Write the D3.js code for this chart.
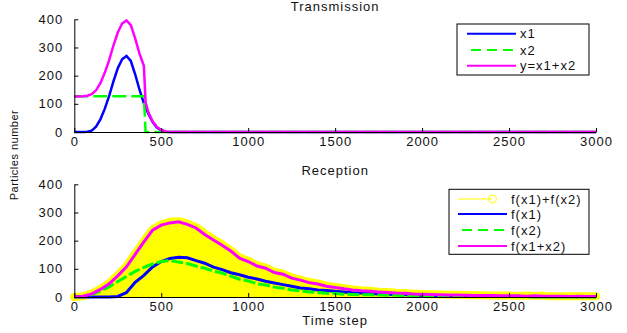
<!DOCTYPE html>
<html>
<head>
<meta charset="utf-8">
<script src="https://cdn.jsdelivr.net/npm/d3@7"></script>
<style>
  body { margin: 0; background: #fff; }
  svg text { font-family: "Liberation Sans", Arial, sans-serif; fill: #111; }
</style>
</head>
<body>
<div id="chart"></div>
<script>
// ---- data ----
const xTicks = [0, 500, 1000, 1500, 2000, 2500, 3000];
const yTicks = [0, 100, 200, 300, 400];

// Transmission panel
const trTime = [0, 25, 50, 75, 100, 125, 150, 175, 200, 225, 250, 275, 300, 325, 350, 375, 400, 410, 425, 450, 475, 500, 525, 550, 600, 1000, 3000];
const trX1 = [0, 0, 0, 1, 5, 19, 45, 82, 127, 180, 226, 258, 270, 252, 205, 150, 102, 88, 66, 36, 16, 6, 1, 0, 0, 0, 0];
const trX2 = [127, 127, 127, 127, 127, 127, 127, 127, 127, 127, 127, 127, 127, 127, 127, 127, 127, 0, 0, 0, 0, 0, 0, 0, 0, 0, 0];
const trY = [126, 126, 127, 129, 134, 148, 173, 210, 254, 307, 353, 385, 396, 379, 332, 278, 235, 105, 72, 38, 18, 7, 2, 0, 0, 0, 0];

// Reception panel
const recTime = [0, 50, 100, 150, 200, 250, 300, 350, 400, 450, 500, 550, 600, 650, 700, 750, 800, 850, 900, 950,
  1000, 1050, 1100, 1150, 1200, 1250, 1300, 1350, 1400, 1450, 1500, 1550, 1600, 1650, 1700, 1750, 1800, 1850, 1900, 1950,
  2000, 2050, 2100, 2150, 2200, 2250, 2300, 2350, 2400, 2450, 2500, 2550, 2600, 2650, 2700, 2750, 2800, 2850, 2900, 2950, 3000];
const recSumF = [0, 3, 12, 29, 49, 78, 110, 154, 199, 240, 258, 267, 269, 261, 248, 226, 205, 187, 166, 141,
  129, 113, 104, 90, 83, 70, 62, 53, 48, 40, 36, 31, 27, 24, 22, 19, 18, 15, 14, 12,
  11, 10, 9, 8, 8, 7, 6, 6, 5, 5, 5, 4, 4, 4, 4, 3, 3, 3, 3, 3, 3];
const recF1 = [0, 0, 0, 0, 0, 2, 16, 52, 77, 107, 126, 137, 141, 139, 129, 120, 106, 97, 86, 79,
  70, 64, 56, 50, 44, 38, 32, 29, 25, 23, 20, 18, 15, 14, 12, 11, 10, 9, 8, 7,
  6, 5, 5, 4, 4, 3, 3, 3, 2, 2, 2, 2, 2, 1, 1, 1, 1, 1, 1, 1, 1];
const recF2 = [0, 2, 9, 21, 36, 55, 73, 91, 105, 117, 126, 129, 124, 119, 110, 102, 92, 85, 74, 63,
  57, 47, 43, 35, 31, 25, 22, 18, 16, 13, 12, 10, 9, 8, 8, 7, 6, 6, 5, 5,
  4, 4, 3, 3, 3, 3, 2, 2, 2, 2, 2, 2, 1, 1, 1, 1, 1, 1, 1, 1, 1];
const recF12 = [0, 3, 11, 27, 47, 75, 107, 151, 196, 237, 255, 263, 267, 258, 245, 222, 202, 184, 163, 138,
  126, 110, 102, 87, 81, 67, 60, 51, 46, 38, 34, 29, 25, 22, 20, 18, 16, 14, 13, 11,
  10, 9, 8, 7, 7, 6, 5, 5, 5, 4, 4, 4, 3, 4, 3, 3, 3, 2, 3, 2, 2];

const W = 627;
const H = 333;
const X0 = 74.3;
const X1 = 596;

const svg = d3.select('#chart').append('svg').attr('width', W).attr('height', H);
svg.append('rect').attr('width', W).attr('height', H).attr('fill', '#fff');

const x = d3.scaleLinear().domain([0, 3000]).range([X0, X1]);

function drawAxes(g, y, title, titleY) {
  g.append('g')
    .attr('transform', `translate(0,${y(0)})`)
    .call(d3.axisBottom(x).tickValues(xTicks).tickFormat(d3.format('d')).tickSize(-4).tickSizeOuter(0).tickPadding(5))
    .call((a) => a.selectAll('text').attr('font-size', 13).attr('letter-spacing', 1).attr('fill', '#111'));
  g.append('g')
    .attr('transform', `translate(${X0},0)`)
    .call(d3.axisLeft(y).tickValues(yTicks).tickFormat(d3.format('d')).tickSize(-4).tickSizeOuter(0).tickPadding(11))
    .call((a) => a.selectAll('text').attr('font-size', 13).attr('letter-spacing', 1).attr('fill', '#111'));
  g.selectAll('.domain, .tick line').attr('stroke', '#000');
  g.append('text')
    .attr('x', (X0 + X1) / 2)
    .attr('y', titleY)
    .attr('text-anchor', 'middle')
    .attr('font-size', 13)
    .attr('letter-spacing', 1)
    .text(title);
}

function legend(g, left, topY, w, h, rows) {
  g.append('rect').attr('x', left).attr('y', topY).attr('width', w).attr('height', h)
    .attr('fill', '#fff').attr('stroke', '#000').attr('stroke-width', 1);
  rows.forEach((r) => {
    g.append('line')
      .attr('x1', r.lx1).attr('x2', r.lx2).attr('y1', r.y).attr('y2', r.y)
      .attr('stroke', r.color).attr('stroke-width', r.width)
      .attr('stroke-dasharray', r.dash || null);
    if (r.marker) {
      g.append('circle').attr('cx', r.lx2).attr('cy', r.y).attr('r', 4)
        .attr('fill', 'none').attr('stroke', r.color).attr('stroke-width', 1);
    }
    g.append('text').attr('x', r.tx).attr('y', r.y + 4.5)
      .attr('font-size', 13).attr('letter-spacing', 1).text(r.label);
  });
}

// ---- Transmission ----
const yTop = d3.scaleLinear().domain([0, 400]).range([132, 19.3]);
const topPanel = svg.append('g');
const lineTop = (vals) => d3.line().x((d, i) => x(trTime[i])).y((d) => yTop(d))(vals);

topPanel.append('path').attr('d', lineTop(trX1)).attr('fill', 'none').attr('stroke', '#0000ff').attr('stroke-width', 2.5);
topPanel.append('path').attr('d', lineTop(trX2)).attr('fill', 'none').attr('stroke', '#00ff00').attr('stroke-width', 2.5)
  .attr('stroke-dasharray', '14,5');
topPanel.append('path').attr('d', lineTop(trY)).attr('fill', 'none').attr('stroke', '#ff00ff').attr('stroke-width', 2.5);
drawAxes(topPanel, yTop, 'Transmission', 10.7);

legend(topPanel, 457, 24, 132, 51, [
  { y: 33.7, lx1: 467, lx2: 516, tx: 520, color: '#0000ff', width: 2, label: 'x1' },
  { y: 50, lx1: 471, lx2: 516, tx: 520, color: '#00ff00', width: 2, dash: '10,6', label: 'x2' },
  { y: 65.7, lx1: 467, lx2: 516, tx: 520, color: '#ff00ff', width: 2, label: 'y=x1+x2' },
]);

// ---- Reception ----
const yBot = d3.scaleLinear().domain([0, 400]).range([297, 184.3]);
const botPanel = svg.append('g');
const lineBot = (vals) => d3.line().x((d, i) => x(recTime[i])).y((d) => yBot(d))(vals);
const areaBot = d3.area().x((d, i) => x(recTime[i])).y0(yBot(0)).y1((d) => yBot(d));

botPanel.append('path').attr('d', areaBot(recSumF)).attr('fill', '#ffff00');
botPanel.append('path').attr('d', lineBot(recSumF)).attr('fill', 'none').attr('stroke', '#ffff00')
  .attr('stroke-width', 8).attr('stroke-linejoin', 'round').attr('stroke-linecap', 'round');
botPanel.append('path').attr('d', lineBot(recF1)).attr('fill', 'none').attr('stroke', '#0000ff').attr('stroke-width', 3);
botPanel.append('path').attr('d', lineBot(recF2)).attr('fill', 'none').attr('stroke', '#00ff00').attr('stroke-width', 3)
  .attr('stroke-dasharray', '12,3');
botPanel.append('path').attr('d', lineBot(recF12)).attr('fill', 'none').attr('stroke', '#ff00ff').attr('stroke-width', 3);
drawAxes(botPanel, yBot, 'Reception', 175);

legend(botPanel, 449, 189.3, 140, 65, [
  { y: 199, lx1: 458, lx2: 492.5, tx: 511, color: '#ffff00', width: 1, marker: true, label: 'f(x1)+f(x2)' },
  { y: 214, lx1: 458, lx2: 507, tx: 511, color: '#0000ff', width: 2, label: 'f(x1)' },
  { y: 230, lx1: 462, lx2: 507, tx: 511, color: '#00ff00', width: 2, dash: '10,6', label: 'f(x2)' },
  { y: 246, lx1: 458, lx2: 507, tx: 511, color: '#ff00ff', width: 2, label: 'f(x1+x2)' },
]);

svg.append('text')
  .attr('x', (X0 + X1) / 2)
  .attr('y', 325.3)
  .attr('text-anchor', 'middle')
  .attr('font-size', 13)
  .attr('letter-spacing', 1)
  .text('Time step');

svg.append('text')
  .attr('transform', 'translate(17.5,155) rotate(-90)')
  .attr('text-anchor', 'middle')
  .attr('font-size', 11)
  .attr('letter-spacing', 0.5)
  .text('Particles number');
</script>
</body>
</html>
